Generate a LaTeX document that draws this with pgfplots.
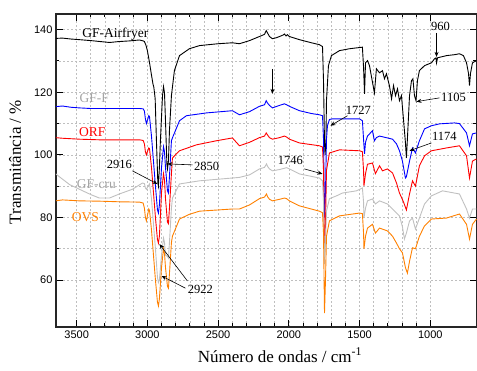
\documentclass[border=0pt]{standalone}
\usepackage{fontspec}
\setmainfont{Liberation Serif}
\newfontfamily\arialf{Liberation Sans}
\usepackage{pgfplots}
\pgfplotsset{compat=1.18}
\usetikzlibrary{calc,arrows.meta}
\definecolor{cgray}{RGB}{192,192,192}
\definecolor{corange}{RGB}{255,128,0}
\definecolor{lblgray}{RGB}{165,165,165}
\begin{document}
\begin{tikzpicture}
\begin{axis}[name=ax, scale only axis, width=421pt, height=313pt,
  x dir=reverse, xmin=670, xmax=3646, ymin=45, ymax=145,
  xtick={1000,1500,...,3500}, minor x tick num=4,
  ytick={60,80,...,140}, minor y tick num=1,
  grid=both,
  major grid style={color=black!25, dash pattern=on 2pt off 2pt, line width=0.6pt},
  minor grid style={color=black!25, dash pattern=on 2pt off 2pt, line width=0.6pt},
  tick align=inside, major tick length=7pt, minor tick length=3.5pt,
  every tick/.style={black, line width=0.9pt},
  axis line style={line width=1.1pt, black!85},
  ticklabel style={font=\arialf\fontsize{11}{13}\selectfont},
  /pgf/number format/assume math mode=true,
  /pgf/number format/set thousands separator={},
  xlabel={Número de ondas / cm\textsuperscript{-1}},
  ylabel={Transmitância / \%},
  label style={font=\fontsize{17}{20}\selectfont},
  xlabel style={at={(axis description cs:0.532,-0.112)}, anchor=base},
  ylabel style={at={(axis description cs:-0.0974,0.527)}, anchor=center},
  every axis plot/.append style={line width=0.9pt},
]
% GF-Airfryer
\addplot[black] coordinates {
(3650,137.2)(3600,137.3)(3540,137.0)(3480,136.8)(3400,136.5)(3268,135.9)(3200,136.2)(3127,136.4)(3056,136.7)(3030,136.4)(3021,136.2)(3010,135.0)(3000,133.3)(2985,129.5)(2971,125.5)(2960,122.5)(2955,121.8)(2945,118.0)(2936,104.5)(2926,91.0)(2922,90.0)(2915,96.0)(2908,104.5)(2893,118.9)(2886,121.8)(2879,119.8)(2872,110.9)(2862,97)(2858,95.5)(2851,98)(2844,107.7)(2830,118.9)(2809,126.9)(2773,131.7)(2703,133.9)(2632,134.9)(2500,135.5)(2399,135.8)(2349,135.5)(2278,136.5)(2208,137.8)(2172,138.5)(2160,139.7)(2150,138.9)(2137,137.8)(2116,137.1)(2090,137.4)(2066,137.8)(2040,138.3)(2031,138.6)(2020,138.0)(2010,138.4)(1996,137.8)(1925,136.8)(1840,135.8)(1784,135.2)(1762,134.6)(1755,123.7)(1748,104)(1744,100)(1738,104)(1734,117.3)(1720,128.5)(1699,131.7)(1642,133.3)(1571,133.9)(1480,134.4)(1472,128)(1465,119.5)(1458,129.4)(1444,130.1)(1430,128.5)(1400,121)(1395,119.8)(1381,127.5)(1359,126.2)(1338,126.9)(1324,124.3)(1310,125.9)(1289,122.1)(1274,117.9)(1260,122.1)(1246,118.9)(1232,121.1)(1218,117.3)(1204,118.9)(1190,111.5)(1176,104)(1169,99)(1162,105)(1147,118.9)(1133,123.7)(1123,124.3)(1112,118.9)(1101,117.3)(1091,123.7)(1077,126.9)(1041,128.5)(992,129.4)(970,130.7)(960,131.0)(956,129.4)(949,131.0)(886,131.7)(829,132.0)(794,132.3)(766,131.7)(744,129.4)(730,126)(723,122.1)(716,126)(702,129.4)(674,130.1)
};
% GF-F
\addplot[blue] coordinates {
(3650,115.4)(3600,115.6)(3540,115.2)(3480,115.0)(3400,114.8)(3268,114.8)(3127,114.8)(3056,114.8)(3030,114.7)(3021,114.0)(3014,111.5)(3007,110.0)(3000,111.0)(2990,112.5)(2985,112.2)(2971,106)(2957,98)(2943,90)(2929,82.5)(2922,81.4)(2915,84)(2900,96)(2886,102.6)(2879,101)(2872,96)(2858,88.5)(2851,87.8)(2844,93)(2830,104.5)(2823,105.4)(2773,110.9)(2724,112.5)(2582,113.4)(2399,114.1)(2349,112.8)(2278,113.8)(2208,115.5)(2172,116.0)(2160,117.3)(2150,116.5)(2137,115.8)(2116,115.0)(2066,115.8)(2031,116.3)(2016,116.0)(1996,115.5)(1925,114.1)(1840,113.2)(1784,112.8)(1762,112.5)(1755,105)(1748,80)(1741,88)(1734,105)(1727,109.3)(1713,111.3)(1692,111.5)(1571,111.5)(1501,111.5)(1480,110.9)(1472,105)(1465,100.3)(1458,104)(1444,106)(1409,107.7)(1395,104.5)(1381,105.5)(1359,106)(1303,105.4)(1267,105)(1239,103.5)(1218,101.3)(1197,98)(1176,92.6)(1169,93)(1147,98)(1126,102.2)(1105,100.6)(1077,104.5)(1041,108.3)(992,109.3)(935,109.9)(829,110.2)(794,110)(744,107)(723,102.9)(702,106.7)(674,107)
};
% ORF
\addplot[red] coordinates {
(3650,105.5)(3600,105.3)(3480,105.0)(3339,104.8)(3198,104.8)(3056,104.8)(3030,104.6)(3021,103.5)(3014,101)(3007,100)(3000,101)(2990,102.2)(2985,102)(2971,96)(2957,88)(2943,80)(2929,73)(2922,71.8)(2915,74)(2900,88)(2886,94)(2879,92)(2872,86)(2858,78.5)(2851,78)(2844,83)(2830,94)(2823,99)(2773,101.3)(2653,103.2)(2512,104.5)(2399,105.4)(2349,102.9)(2278,104)(2208,105.5)(2172,106)(2160,107)(2150,106.3)(2137,105.5)(2116,105)(2066,105.5)(2031,106)(2016,105.7)(1996,105)(1925,103.8)(1784,102.9)(1762,102.5)(1755,95)(1748,69.3)(1741,78)(1734,95)(1713,100.6)(1642,101.6)(1501,101.3)(1480,101)(1472,95)(1469,90.1)(1458,94)(1444,97)(1409,97.4)(1388,94)(1359,96.5)(1338,94.9)(1303,95.5)(1267,94.2)(1239,91)(1218,87.8)(1190,85)(1169,82.4)(1147,87.5)(1126,91.7)(1105,90)(1077,96.5)(1041,99.7)(992,101.3)(886,102.2)(794,102.9)(744,99.7)(723,92.6)(702,98)(674,98.7)
};
% GF-cru
\addplot[cgray] coordinates {
(3650,94.0)(3622,93.0)(3550,90.5)(3480,89.0)(3400,87.3)(3339,86.2)(3268,86.2)(3198,87.5)(3106,89.0)(3056,90.4)(3035,91.0)(3021,90.8)(3014,89.4)(3007,89.0)(3000,89.6)(2985,90.7)(2971,86)(2957,78)(2943,70)(2929,61)(2922,59.2)(2915,60)(2900,68)(2886,73.4)(2879,72)(2872,68)(2858,67.5)(2851,67)(2844,72)(2830,83)(2823,86.2)(2773,90.7)(2632,91.7)(2399,92.6)(2349,92.8)(2278,93.6)(2208,95.5)(2172,96)(2158,97.1)(2150,96.3)(2137,95.5)(2116,94.9)(2066,95.3)(2016,95.9)(1996,95.5)(1925,93.9)(1784,92.6)(1762,91.7)(1755,85)(1748,65.1)(1741,72)(1734,82)(1713,86)(1663,86.9)(1621,87.8)(1522,88.5)(1480,89.4)(1472,85)(1469,79.8)(1458,83)(1444,85.3)(1409,85.9)(1388,84.3)(1359,85.3)(1303,84.3)(1267,82.7)(1239,81.4)(1218,80.5)(1197,77)(1183,73.1)(1169,75)(1147,78.9)(1126,79.8)(1105,76.3)(1077,79.8)(1041,84.3)(992,86.9)(914,88.5)(794,87.5)(744,82.7)(723,79.8)(702,82.7)(674,82.7)
};
% OVS
\addplot[corange] coordinates {
(3650,85.3)(3600,85.6)(3480,85.3)(3339,85.2)(3198,85.0)(3056,84.9)(3030,84.6)(3021,83)(3014,80)(3007,78.9)(3000,80.5)(2990,82.7)(2985,82.3)(2971,76)(2957,68)(2943,60)(2929,53)(2922,51.7)(2915,54)(2900,64)(2886,70)(2879,68.5)(2872,64)(2858,58)(2851,57.4)(2844,62)(2830,72)(2823,74)(2773,79.5)(2703,81)(2632,82)(2399,82.7)(2349,82.7)(2278,84)(2208,86)(2172,86.5)(2158,87.5)(2150,86.6)(2137,85.8)(2116,85.3)(2066,85.8)(2031,86.2)(2016,86)(1996,85.3)(1925,83.7)(1784,82)(1762,81.5)(1755,75)(1748,49.4)(1741,60)(1734,74)(1713,78.9)(1642,80.5)(1501,81.4)(1480,81.2)(1472,75)(1469,70)(1458,74)(1444,76.6)(1409,77.8)(1388,75)(1359,76.6)(1303,75.7)(1267,74)(1239,71.8)(1218,70)(1197,68.7)(1176,64)(1162,62.2)(1147,66)(1126,70.3)(1105,70)(1077,74)(1041,77.3)(992,79.5)(886,79.8)(794,81.1)(744,77.8)(723,73.1)(702,77.8)(674,79.5)
};
% series labels
\node[font=\fontsize{13.5}{15}\selectfont, black] at (axis cs:3226,138.7) {GF-Airfryer};
\node[font=\fontsize{13.5}{15}\selectfont, lblgray] at (axis cs:3376,118.2) {GF-F};
\node[font=\fontsize{13.5}{15}\selectfont, red] at (axis cs:3390,107.4) {ORF};
\node[font=\fontsize{13.5}{15}\selectfont, lblgray] at (axis cs:3360,90.7) {GF-cru};
\node[font=\fontsize{13.5}{15}\selectfont, corange] at (axis cs:3438,80.2) {OVS};
% peak annotations
\tikzset{ann/.style={font=\fontsize{12.5}{14}\selectfont, black}, arr/.style={-{Stealth[length=5pt,width=4pt]}, line width=0.6pt, black}}
\node[ann] at (axis cs:3198,96.8) {2916};
\draw[arr] (axis cs:3106,94.9) -- (axis cs:2929,90.7);
\node[ann] at (axis cs:2582,96.2) {2850};
\draw[arr] (axis cs:2681,96.8) -- (axis cs:2858,97.1);
\node[ann] at (axis cs:2625,57.1) {2922};
\draw[arr] (axis cs:2717,59.7) -- (axis cs:2915,71.5);
\draw[arr] (axis cs:2731,57.4) -- (axis cs:2900,61.3);
\node[ann] at (axis cs:1508,114.1) {1727};
\draw[arr] (axis cs:1586,112.5) -- (axis cs:1706,109.3);
\node[ann] at (axis cs:1989,98.1) {1746};
\draw[arr] (axis cs:1890,95.5) -- (axis cs:1762,93.9);
\node[ann] at (axis cs:900,105.8) {1174};
\draw[arr] (axis cs:992,103.8) -- (axis cs:1147,101.3);
\node[ann] at (axis cs:836,118.2) {1105};
\draw[arr] (axis cs:935,118.2) -- (axis cs:1098,117);
\node[ann] at (axis cs:928,141) {960};
\draw[arr] (axis cs:956,139) -- (axis cs:956,131.3);
\draw[arr] (axis cs:2116,127.5) -- (axis cs:2116,119.5);
\end{axis}
\pgfresetboundingbox
\path[use as bounding box] ($(ax.south west)+(-56pt,-44pt)$) rectangle ($(ax.north east)+(0pt,14pt)$);
\end{tikzpicture}
\end{document}
